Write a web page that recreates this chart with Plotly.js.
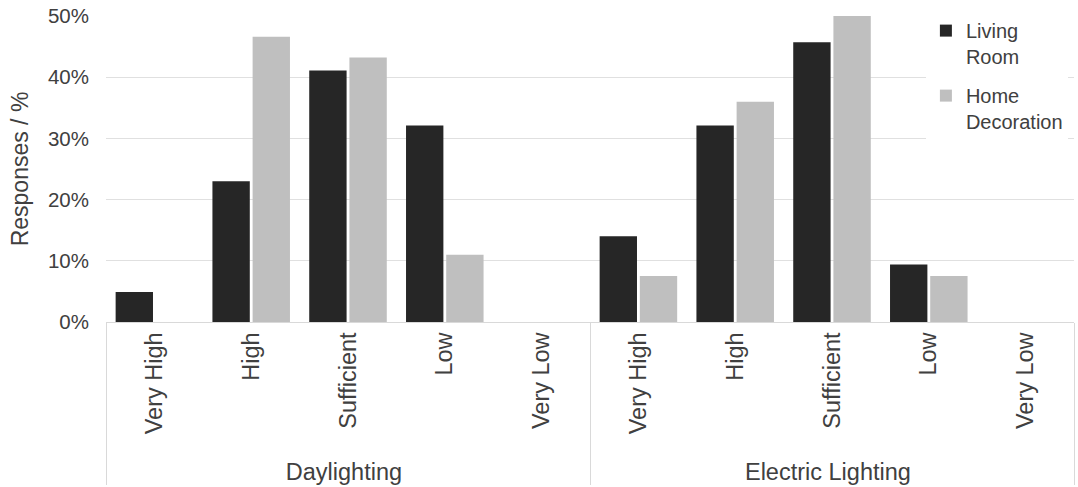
<!DOCTYPE html>
<html>
<head>
<meta charset="utf-8">
<script src="https://cdn.plot.ly/plotly-3.0.1.min.js"></script>
<style>
  html, body { margin: 0; padding: 0; background: #ffffff; }
  #chart { width: 1078px; height: 487px; }
</style>
</head>
<body>
<div id="chart"></div>
<script>
// Survey: perceived lighting level, share of responses per rating
const lightingTypes = ['Daylighting', 'Electric Lighting'];
const ratings = ['Very High', 'High', 'Sufficient', 'Low', 'Very Low'];

// percentages, Daylighting ratings first, then Electric Lighting
const livingRoom = [4.9, 23.0, 41.1, 32.1, 0, 14.0, 32.1, 45.7, 9.4, 0];
const homeDecoration = [0, 46.6, 43.2, 11.0, 0, 7.5, 36.0, 50.0, 7.5, 0];

const yTicks = [0, 10, 20, 30, 40, 50];
const yTickLabels = ['0%', '10%', '20%', '30%', '40%', '50%'];

// two-level category keys: outer = lighting type, inner = rating
const outer = [];
const inner = [];
lightingTypes.forEach(t => ratings.forEach(r => { outer.push(t); inner.push(r); }));

const FONT = 'Liberation Sans, Arial, sans-serif';
const TEXT = '#404040';

const traces = [
  {
    type: 'bar', name: 'Living<br>Room', legendgroup: 'a',
    x: [outer, inner], y: livingRoom,
    marker: { color: '#262626', line: { width: 0 } }
  },
  {
    type: 'bar', name: 'Home<br>Decoration', legendgroup: 'b',
    x: [outer, inner], y: homeDecoration,
    marker: { color: '#bfbfbf', line: { width: 0 } }
  }
];

const layout = {
  width: 1078, height: 487,
  margin: { l: 106, r: 4, t: 16, b: 165 },
  paper_bgcolor: '#ffffff', plot_bgcolor: '#ffffff',
  font: { family: FONT, size: 20, color: TEXT },
  barmode: 'group', bargap: 0.17, bargroupgap: 0.07,
  showlegend: true,
  legend: {
    x: 0.847, xanchor: 'left', y: 1.016, yanchor: 'top',
    bgcolor: '#ffffff', valign: 'top',
    font: { family: FONT, size: 20, color: TEXT },
    traceorder: 'grouped', tracegroupgap: 10
  },
  xaxis: {
    type: 'multicategory',
    tickangle: -90,
    tickfont: { family: FONT, size: 23.5, color: TEXT },
    showline: true, linecolor: '#d9d9d9', linewidth: 1,
    showdividers: true, dividercolor: '#d9d9d9', dividerwidth: 1,
    ticks: '', showgrid: false, automargin: false
  },
  yaxis: {
    range: [0, 50], tickmode: 'array', tickvals: yTicks, ticktext: yTickLabels,
    showgrid: true, gridcolor: '#e0e0e0', gridwidth: 1,
    zeroline: false, showline: false, ticks: '',
    tickfont: { family: FONT, size: 20.5, color: TEXT },
    ticklabelstandoff: 16,
    automargin: false,
    title: { text: 'Responses / %', font: { family: FONT, size: 23, color: TEXT }, standoff: 12 }
  }
};

Plotly.newPlot('chart', traces, layout, { displayModeBar: false, staticPlot: true });
</script>
</body>
</html>
